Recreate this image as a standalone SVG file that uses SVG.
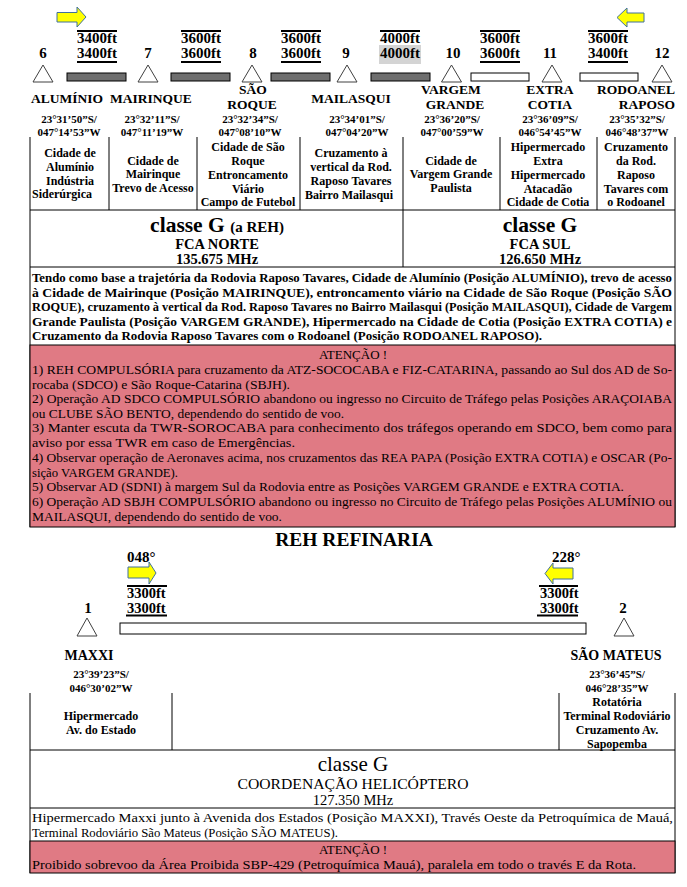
<svg xmlns="http://www.w3.org/2000/svg" width="687" height="887" viewBox="0 0 687 887">
<style>
text{font-family:'Liberation Serif','Times New Roman',serif;fill:#000}
.b{font-weight:bold}
.m{text-anchor:middle}
.alt{font-size:15px;font-weight:bold}
.num{font-size:15px;font-weight:bold;text-anchor:middle}
.nm{font-size:13.5px;font-weight:bold;text-anchor:middle}
.co{font-size:11px;font-weight:bold;text-anchor:middle}
.ds{font-size:12px;font-weight:bold;text-anchor:middle}
.pb{font-size:12.5px;font-weight:bold}
.pr{font-size:13px}
.ln{stroke:#000;stroke-width:1;fill:none}
.tk{stroke:#000;stroke-width:2}
.tri{fill:#fff;stroke:#404040;stroke-width:1}
.bar{fill:#6e6e6e;stroke:#000;stroke-width:1}
.wbar{fill:#fff;stroke:#000;stroke-width:1}
.arr{fill:#ffff00;stroke:#41719c;stroke-width:1}
.red{fill:#e07a84;stroke:#000;stroke-width:1}
</style>

<!-- direction arrows -->
<path class="arr" d="M57,12.5 H77 V7 L86,17 L77,27 V22 H57 Z"/>
<path class="arr" d="M644,13 H627 V8 L617,17.5 L627,27 V22 H644 Z"/>

<!-- connectors (route legs) -->
<g id="connectors">
  <rect class="bar" x="67" y="73" width="59" height="8"/>
  <rect class="bar" x="171" y="73" width="59" height="8"/>
  <rect class="bar" x="271" y="73" width="59" height="8"/>
  <rect class="bar" x="371" y="73" width="59" height="8"/>
  <rect class="wbar" x="471" y="73" width="58" height="8"/>
  <rect class="wbar" x="580" y="73" width="58" height="8"/>
  <rect class="wbar" x="120" y="623" width="466" height="11"/>
</g>

<!-- altitude labels -->
<g id="alt1"><line class="tk" x1="77" y1="31" x2="117" y2="31"/><text class="alt" x="77" y="43">3400ft</text><text class="alt" x="77" y="58">3400ft</text><line class="tk" x1="77" y1="62" x2="117" y2="62"/></g>
<g id="alt2"><line class="tk" x1="181" y1="31" x2="221" y2="31"/><text class="alt" x="181" y="43">3600ft</text><text class="alt" x="181" y="58">3600ft</text><line class="tk" x1="181" y1="62" x2="221" y2="62"/></g>
<g id="alt3"><line class="tk" x1="281" y1="31" x2="321" y2="31"/><text class="alt" x="281" y="43">3600ft</text><text class="alt" x="281" y="58">3600ft</text><line class="tk" x1="281" y1="62" x2="321" y2="62"/></g>
<g id="alt4"><line class="tk" x1="380" y1="31" x2="420" y2="31"/><text class="alt" x="380" y="43">4000ft</text><rect x="379" y="45" width="42" height="19" fill="#d4d4d4"/><text class="alt" x="380" y="58">4000ft</text></g>
<g id="alt5"><line class="tk" x1="480" y1="31" x2="520" y2="31"/><text class="alt" x="480" y="43">3600ft</text><text class="alt" x="480" y="58">3600ft</text><line class="tk" x1="480" y1="62" x2="520" y2="62"/></g>
<g id="alt6"><line class="tk" x1="588" y1="31" x2="628" y2="31"/><text class="alt" x="588" y="43">3600ft</text><text class="alt" x="588" y="58">3400ft</text><line class="tk" x1="588" y1="62" x2="628" y2="62"/></g>

<!-- waypoints -->
<g id="wp6"><text class="num" x="43" y="58">6</text><path class="tri" d="M43,65 L53,82 L33,82 Z"/><text class="nm" x="67" y="103">ALUMÍNIO</text><text class="co" x="69" y="123">23°31’50”S/</text><text class="co" x="69" y="136">047°14’53”W</text></g>
<g id="wp7"><text class="num" x="148" y="58">7</text><path class="tri" d="M148,65 L158,82 L138,82 Z"/><text class="nm" x="151" y="103">MAIRINQUE</text><text class="co" x="152" y="123">23°32’11”S/</text><text class="co" x="152" y="136">047°11’19”W</text></g>
<g id="wp8"><text class="num" x="253" y="58">8</text><path class="tri" d="M252,65 L262,82 L242,82 Z"/><text class="nm" x="253" y="94">SÃO</text><text class="nm" x="252" y="109">ROQUE</text><text class="co" x="250" y="123">23°32’34”S/</text><text class="co" x="250" y="136">047°08’10”W</text></g>
<g id="wp9"><text class="num" x="346" y="58">9</text><path class="tri" d="M347,65 L357,82 L337,82 Z"/><text class="nm" x="351" y="103">MAILASQUI</text><text class="co" x="357" y="123">23°34’01”S/</text><text class="co" x="357" y="136">047°04’20”W</text></g>
<g id="wp10"><text class="num" x="453" y="58">10</text><path class="tri" d="M451.5,65 L461.5,82 L441.5,82 Z"/><text class="nm" x="451" y="94">VARGEM</text><text class="nm" x="455" y="109">GRANDE</text><text class="co" x="452" y="123">23°36’20”S/</text><text class="co" x="452" y="136">047°00’59”W</text></g>
<g id="wp11"><text class="num" x="550" y="58">11</text><path class="tri" d="M552,65 L562,82 L542,82 Z"/><text class="nm" x="550" y="94">EXTRA</text><text class="nm" x="550" y="109">COTIA</text><text class="co" x="550" y="123">23°36’09”S/</text><text class="co" x="550" y="136">046°54’45”W</text></g>
<g id="wp12"><text class="num" x="662" y="58">12</text><path class="tri" d="M662,65 L672,82 L652,82 Z"/><text class="nm" x="636" y="94">RODOANEL</text><text class="nm" x="675" y="109" style="text-anchor:end">RAPOSO</text><text class="co" x="637" y="123">23°35’32”S/</text><text class="co" x="637" y="136">046°48’37”W</text></g>

<!-- top table -->
<g id="table-top">
  <path class="ln" d="M30,137 V527 M109,137 V210 M197,137 V210 M300,137 V210 M403,137 V267 M500,137 V210 M597,137 V210 M675,137 V527 M30,210 H675 M30,267 H675"/>
  <text class="ds" x="70" y="157">Cidade de</text><text class="ds" x="70" y="171">Alumínio</text><text class="ds" x="70" y="185">Indústria</text><text class="ds" x="32" y="198" style="text-anchor:start">Siderúrgica</text>
  <text class="ds" x="153" y="165">Cidade de</text><text class="ds" x="153" y="178">Mairinque</text><text class="ds" x="153" y="192">Trevo de Acesso</text>
  <text class="ds" x="248" y="151">Cidade de São</text><text class="ds" x="248" y="165">Roque</text><text class="ds" x="248" y="179">Entroncamento</text><text class="ds" x="248" y="193">Viário</text><text class="ds" x="248" y="206">Campo de Futebol</text>
  <text class="ds" x="351" y="157">Cruzamento à</text><text class="ds" x="351" y="171">vertical da Rod.</text><text class="ds" x="351" y="185">Raposo Tavares</text><text class="ds" x="349" y="199">Bairro Mailasqui</text>
  <text class="ds" x="451" y="165">Cidade de</text><text class="ds" x="451" y="178">Vargem Grande</text><text class="ds" x="451" y="192">Paulista</text>
  <text class="ds" x="548" y="151">Hipermercado</text><text class="ds" x="548" y="165">Extra</text><text class="ds" x="548" y="179">Hipermercado</text><text class="ds" x="548" y="193">Atacadão</text><text class="ds" x="548" y="206">Cidade de Cotia</text>
  <text class="ds" x="636" y="151">Cruzamento</text><text class="ds" x="636" y="165">da Rod.</text><text class="ds" x="636" y="179">Raposo</text><text class="ds" x="636" y="193">Tavares com</text><text class="ds" x="636" y="206">o Rodoanel</text>
</g>

<g id="fca-norte">
  <text class="b m" x="217" y="232" style="font-size:21.5px">classe G <tspan style="font-size:15px">(a REH)</tspan></text>
  <text class="b m" x="217" y="249" style="font-size:14.5px">FCA NORTE</text>
  <text class="b m" x="217" y="264" style="font-size:14.5px">135.675 MHz</text>
</g>
<g id="fca-sul">
  <text class="b m" x="540" y="232" style="font-size:21.5px">classe G</text>
  <text class="b m" x="540" y="249" style="font-size:14.5px">FCA SUL</text>
  <text class="b m" x="540" y="264" style="font-size:14.5px">126.650 MHz</text>
</g>

<g id="desc-top">
  <text class="pb" x="32" y="282" textLength="640" lengthAdjust="spacingAndGlyphs">Tendo como base a trajetória da Rodovia Raposo Tavares, Cidade de Alumínio (Posição ALUMÍNIO), trevo de acesso</text>
  <text class="pb" x="32" y="296.5" textLength="640" lengthAdjust="spacingAndGlyphs">à Cidade de Mairinque (Posição MAIRINQUE), entroncamento viário na Cidade de São Roque (Posição SÃO</text>
  <text class="pb" x="32" y="311" textLength="640" lengthAdjust="spacingAndGlyphs">ROQUE), cruzamento à vertical da Rod. Raposo Tavares no Bairro Mailasqui (Posição MAILASQUI), Cidade de Vargem</text>
  <text class="pb" x="32" y="325.5" textLength="640" lengthAdjust="spacingAndGlyphs">Grande Paulista (Posição VARGEM GRANDE), Hipermercado na Cidade de Cotia (Posição EXTRA COTIA) e</text>
  <text class="pb" x="32" y="340" textLength="510" lengthAdjust="spacingAndGlyphs">Cruzamento da Rodovia Raposo Tavares com o Rodoanel (Posição RODOANEL RAPOSO).</text>
</g>

<g id="atencao-top">
  <rect class="red" x="30" y="345" width="645" height="182"/>
  <text class="pr m" x="353" y="359">ATENÇÃO !</text>
  <text class="pr" x="32" y="374" textLength="640" lengthAdjust="spacingAndGlyphs">1) REH COMPULSÓRIA para cruzamento da ATZ-SOCOCABA e FIZ-CATARINA, passando ao Sul dos AD de So-</text>
  <text class="pr" x="32" y="388.6" textLength="258" lengthAdjust="spacingAndGlyphs">rocaba (SDCO) e São Roque-Catarina (SBJH).</text>
  <text class="pr" x="32" y="403.2" textLength="640" lengthAdjust="spacingAndGlyphs">2) Operação AD SDCO COMPULSÓRIO abandono ou ingresso no Circuito de Tráfego pelas Posições ARAÇOIABA</text>
  <text class="pr" x="32" y="417.8" textLength="312" lengthAdjust="spacingAndGlyphs">ou CLUBE SÃO BENTO, dependendo do sentido de voo.</text>
  <text class="pr" x="32" y="432.4" textLength="640" lengthAdjust="spacingAndGlyphs">3) Manter escuta da TWR-SOROCABA para conhecimento dos tráfegos operando em SDCO, bem como para</text>
  <text class="pr" x="32" y="447" textLength="263" lengthAdjust="spacingAndGlyphs">aviso por essa TWR em caso de Emergências.</text>
  <text class="pr" x="32" y="462" textLength="640" lengthAdjust="spacingAndGlyphs">4) Observar operação de Aeronaves acima, nos cruzamentos das REA PAPA (Posição EXTRA COTIA) e OSCAR (Po-</text>
  <text class="pr" x="32" y="476.8" textLength="146" lengthAdjust="spacingAndGlyphs">sição VARGEM GRANDE).</text>
  <text class="pr" x="32" y="491.4" textLength="592" lengthAdjust="spacingAndGlyphs">5) Observar AD (SDNI) à margem Sul da Rodovia entre as Posições VARGEM GRANDE e EXTRA COTIA.</text>
  <text class="pr" x="32" y="506" textLength="640" lengthAdjust="spacingAndGlyphs">6) Operação AD SBJH COMPULSÓRIO abandono ou ingresso no Circuito de Tráfego pelas Posições ALUMÍNIO ou</text>
  <text class="pr" x="32" y="520.5" textLength="250" lengthAdjust="spacingAndGlyphs">MAILASQUI, dependendo do sentido de voo.</text>
</g>

<text class="b m" x="354" y="546" style="font-size:19.5px">REH REFINARIA</text>

<!-- bottom route -->
<g id="alt-048">
  <text class="alt" x="127" y="562">048°</text>
  <path class="arr" d="M128,567 H149 V562 L156,573 L149,584 V578 H128 Z"/>
  <line class="tk" x1="127" y1="586" x2="167" y2="586"/>
  <text class="alt" x="127" y="598" style="font-size:14.5px">3300ft</text>
  <text class="alt" x="127" y="613" style="font-size:14.5px">3300ft</text>
  <line class="tk" x1="126" y1="615.5" x2="167" y2="615.5"/>
</g>
<g id="alt-228">
  <text class="alt" x="552" y="562">228°</text>
  <path class="arr" d="M573,568 H553 V563 L545,573.5 L553,584 V579 H573 Z"/>
  <line class="tk" x1="539" y1="586" x2="578" y2="586"/>
  <text class="alt" x="540" y="598" style="font-size:14.5px">3300ft</text>
  <text class="alt" x="540" y="613" style="font-size:14.5px">3300ft</text>
  <line class="tk" x1="537" y1="615.5" x2="578" y2="615.5"/>
</g>
<g id="wp1"><text class="num" x="88" y="613">1</text><path class="tri" d="M87,618 L97,636 L77,636 Z"/><text class="b m" x="89" y="660" style="font-size:14px">MAXXI</text><text class="co" x="101" y="678">23°39’23”S/</text><text class="co" x="101" y="692">046°30’02”W</text></g>
<g id="wp2"><text class="num" x="623" y="613">2</text><path class="tri" d="M624,618 L634,636 L614,636 Z"/><text class="b m" x="616" y="660" style="font-size:14px">SÃO MATEUS</text><text class="co" x="617" y="678">23°36’45”S/</text><text class="co" x="617" y="692">046°28’35”W</text></g>

<g id="table-bottom">
  <path class="ln" d="M30,693 V873 M172,693 V750 M559,693 V750 M675,693 V873 M30,750 H675 M30,808 H675"/>
  <text class="ds" x="101" y="720">Hipermercado</text><text class="ds" x="101" y="734">Av. do Estado</text>
  <text class="ds" x="617" y="706">Rotatória</text><text class="ds" x="617" y="720">Terminal Rodoviário</text><text class="ds" x="617" y="734">Cruzamento Av.</text><text class="ds" x="617" y="748">Sapopemba</text>
</g>
<g id="heli">
  <text class="m" x="353" y="771" style="font-size:21px">classe G</text>
  <text class="m" x="353" y="788.5" style="font-size:14.5px" textLength="231" lengthAdjust="spacingAndGlyphs">COORDENAÇÃO HELICÓPTERO</text>
  <text class="m" x="353" y="805" style="font-size:14.5px">127.350 MHz</text>
</g>
<g id="desc-bottom">
  <text class="pr" x="32" y="822" textLength="641" lengthAdjust="spacingAndGlyphs">Hipermercado Maxxi junto à Avenida dos Estados (Posição MAXXI), Través Oeste da Petroquímica de Mauá,</text>
  <text class="pr" x="32" y="837" textLength="306" lengthAdjust="spacingAndGlyphs">Terminal Rodoviário São Mateus (Posição SÃO MATEUS).</text>
</g>
<g id="atencao-bottom">
  <rect class="red" x="30" y="841" width="645" height="32"/>
  <text class="pr m" x="353" y="854">ATENÇÃO !</text>
  <text class="pr" x="32" y="869" textLength="604" lengthAdjust="spacingAndGlyphs">Proibido sobrevoo da Área Proibida SBP-429 (Petroquímica Mauá), paralela em todo o través E da Rota.</text>
</g>
</svg>
